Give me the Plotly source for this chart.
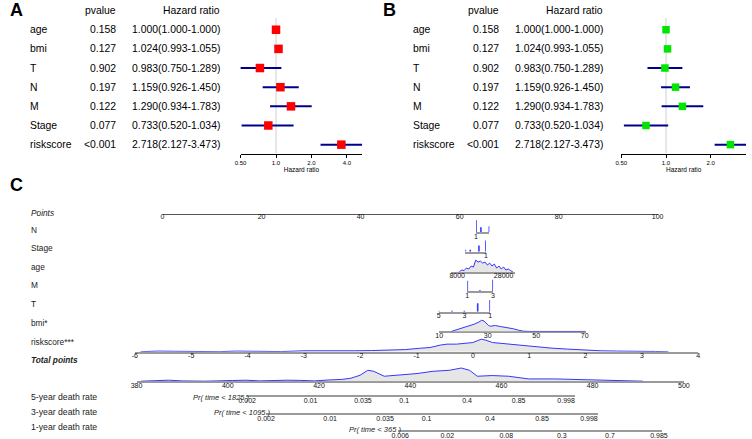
import math
import plotly.graph_objects as go

W, H = 752, 439
FONT = "Liberation Sans, Arial, sans-serif"

# ---------------- forest plot data ----------------
variables = ["age", "bmi", "T", "N", "M", "Stage", "riskscore"]
pvalues = ["0.158", "0.127", "0.902", "0.197", "0.122", "0.077", "<0.001"]
hr_labels = ["1.000(1.000-1.000)", "1.024(0.993-1.055)", "0.983(0.750-1.289)",
             "1.159(0.926-1.450)", "1.290(0.934-1.783)", "0.733(0.520-1.034)",
             "2.718(2.127-3.473)"]
# panel A: estimates as drawn
a_hr = [1.00, 1.05, 0.73, 1.09, 1.34, 0.86, 3.59]
a_lo = [1.00, 1.05, 0.49, 0.77, 0.89, 0.51, 2.39]
a_hi = [1.00, 1.05, 1.11, 1.56, 2.01, 1.41, 5.40]
# panel B
b_hr = [1.000, 1.024, 0.983, 1.159, 1.290, 0.733, 2.718]
b_lo = [1.000, 0.993, 0.750, 0.926, 0.934, 0.520, 2.127]
b_hi = [1.000, 1.055, 1.289, 1.450, 1.783, 1.034, 3.473]
hr_tickvals = [0.5, 1, 2, 4]
hr_ticktext = ["0.50", "1.0", "2.0", "4.0"]

# ---------------- nomogram data ----------------
points_ticks = [0, 20, 40, 60, 80, 100]

n_points = [63.3, 64.3, 66.0]
n_freq = [12, 5, 6]
n_ticktext = ["1", "", ""]

stage_points = [61.15, 62.15, 63.9, 65.3]
stage_freq = [2, 2, 6.3, 11.3]
stage_ticktext = ["", "", "", "1"]

m_points = [61.55, 64.1, 66.75]
m_freq = [10.7, 1, 11.7]
m_ticktext = ["1", "", "3"]

t_points = [55.75, 58.45, 60.95, 63.65, 66.15]
t_freq = [1, 1, 1, 8.7, 12]
t_ticktext = ["5", "", "3", "", "1"]

age_ticks = [8000, 28000]
age_x = [9000, 10000, 11000, 12000, 13000, 14000, 15000, 16000, 17000, 18000,
         19000, 20000, 21000, 22000, 23000, 24000, 25000, 26000, 27000, 28000,
         29000, 30000, 31000, 32000]
age_dens = [0.5, 2, 1.5, 4, 3, 6, 5, 12, 10, 11, 9, 10, 7, 9, 6, 8, 4, 6, 3, 5,
            2, 3, 1.5, 0]

bmi_ticks = [10, 30, 50, 70]
bmi_x = [15, 17, 19, 21.7, 24.4, 26.4, 27.5, 28.5, 29.6, 30.4, 31.1, 33.2, 35.2,
         37.9, 40.6, 42.6, 44.7, 47, 66, 67.5, 69, 70]
bmi_dens = [0, 1.5, 3.3, 5.7, 7.3, 9.5, 11.3, 10.5, 7.5, 6.0, 5.3, 6, 5, 4, 2.7,
            1.3, 0.3, 0, 0, 0.4, 0.3, 0]

risk_ticks = [-6, -5, -4, -3, -2, -1, 0, 1, 2, 3, 4]
risk_x = [-5.9, -5.6, -5.3, -5.0, -4.5, -4.2, -3.8, -3.4, -3.0, -2.7, -2.4, -2.1,
          -1.8, -1.5, -1.2, -0.95, -0.76, -0.58, -0.46, -0.29, -0.12, 0.0, 0.15,
          0.23, 0.35, 0.52, 0.7, 0.93, 1.16, 1.39, 1.68, 1.97, 2.26, 2.55, 2.8,
          3.01, 3.24, 3.47]
risk_dens = [0, 0.7, 0.5, 0.1, 0.1, 0.7, 0.6, 0.2, 1, 0.8, 0.6, 1, 1.2, 1.5, 2.2,
             3.5, 4.3, 6.7, 7.7, 7.7, 8.3, 9.3, 12.7, 11.7, 9.3, 8.3, 7, 6, 5, 3.7,
             2.7, 1.7, 1, 0.7, 0.7, 1, 0.3, 0]

total_ticks = [380, 400, 420, 440, 460, 480, 500]
total_x = [381, 384, 387, 390, 395, 401, 404, 407, 410, 413, 416, 419, 422, 425,
           427, 429, 430.7, 432, 434.3, 436, 438, 441.5, 445, 448.6, 451.2, 453,
           454.7, 458, 461.6, 465.9, 471.6, 477.4, 483.1, 488.9, 491]
total_dens = [0, 0.7, 1, 0.3, 0, 0.7, 1, 0.3, 0.8, 1, 0.8, 0.3, 1.2, 1.8, 3, 6,
              11, 10, 5, 5.5, 6.3, 7.7, 10, 11, 13.3, 11, 5, 5.7, 5, 2.3, 2.3,
              1.7, 1, 0.7, 0]

rate5_text = ["0.002", "0.01", "0.035", "0.1", "0.4", "0.85", "0.998"]
rate5_pos = [404.25, 418.15, 429.64, 438.68, 452.45, 463.77, 474.18]
rate3_text = ["0.002", "0.01", "0.035", "0.1", "0.4", "0.85", "0.998"]
rate3_pos = [408.4, 422.45, 434.5, 443.6, 457.5, 468.9, 479.2]
rate1_text = ["0.006", "0.02", "0.08", "0.3", "0.7", "0.985"]
rate1_pos = [437.8, 448.14, 461.05, 473.23, 483.78, 494.54]

# ---------------- helpers ----------------
def px2x(px):
    return px / W


def py2y(py):
    return 1 - py / H


layout = dict(
    width=W, height=H, margin=dict(l=0, r=0, t=0, b=0),
    paper_bgcolor="white", plot_bgcolor="white", showlegend=False,
    font=dict(family=FONT, color="#000"),
)
traces = []
annotations = []

# ---------------- forest plots ----------------
ROW0, ROWSTEP = 30.0, 19.33
y_bot = (155 - ROW0) / ROWSTEP
y_top = (18 - ROW0) / ROWSTEP
layout["yaxis"] = dict(domain=[py2y(155), py2y(18)], range=[y_bot, y_top],
                       visible=False, fixedrange=True)


def log_range(px_half, px_doubling, px_start, px_end):
    l2 = math.log10(2)
    lo = math.log10(0.5) + (px_start - px_half) / px_doubling * l2
    hi = math.log10(0.5) + (px_end - px_half) / px_doubling * l2
    return [lo, hi]


def forest_axis(px_half, px_doubling, px_start, px_end):
    return dict(type="log", range=log_range(px_half, px_doubling, px_start, px_end),
                domain=[px2x(px_start), px2x(px_end)], anchor="y",
                showline=True, linecolor="#000", linewidth=1,
                ticks="outside", ticklen=3, tickwidth=1, tickcolor="#000",
                tickvals=hr_tickvals, ticktext=hr_ticktext,
                tickfont=dict(size=6, family=FONT),
                title=dict(text="Hazard ratio", font=dict(size=6.5, family=FONT), standoff=1),
                showgrid=False, zeroline=False, fixedrange=True)


layout["xaxis"] = forest_axis(237, 36.1, 237, 361)
layout["xaxis2"] = forest_axis(625, 45.5, 625, 752)

rows_idx = list(range(len(variables)))
panels = [("x", a_hr, a_lo, a_hi, "#FF0000", 8.5, 20.7, 112.3, 218.3, "A", 9),
          ("x2", b_hr, b_lo, b_hi, "#00E600", 7.5, 411, 502.7, 608.7, "B", 389)]
for xa, hr, lo, hi, col, msz, xname, xp, xhr, letter, xlet in panels:
    traces.append(go.Scatter(x=[1, 1], y=[y_top, y_bot], xaxis=xa, yaxis="y",
                             mode="lines", line=dict(color="#cfcfcf", width=1),
                             hoverinfo="skip", cliponaxis=False))
    cx, cy = [], []
    for i in rows_idx:
        cx += [lo[i], hi[i], None]
        cy += [i, i, None]
    traces.append(go.Scatter(x=cx, y=cy, xaxis=xa, yaxis="y", mode="lines",
                             line=dict(color="#00008B", width=2), cliponaxis=False,
                             hoverinfo="skip"))
    traces.append(go.Scatter(x=hr, y=rows_idx, xaxis=xa, yaxis="y", mode="markers",
                             marker=dict(symbol="square", size=msz, color=col),
                             cliponaxis=False, hoverinfo="skip"))
    tf = dict(family=FONT, size=10.4, color="#000")
    annotations.append(dict(x=px2x(xp), y=py2y(10.7), xref="paper", yref="paper",
                            text="pvalue", xanchor="right", yanchor="middle",
                            showarrow=False, font=tf))
    annotations.append(dict(x=px2x(xhr), y=py2y(10.7), xref="paper", yref="paper",
                            text="Hazard ratio", xanchor="right", yanchor="middle",
                            showarrow=False, font=tf))
    for i in rows_idx:
        annotations.append(dict(x=px2x(xname), y=i, xref="paper", yref="y",
                                text=variables[i], xanchor="left", yanchor="middle",
                                showarrow=False, font=tf))
        annotations.append(dict(x=px2x(xp), y=i, xref="paper", yref="y",
                                text=pvalues[i], xanchor="right", yanchor="middle",
                                showarrow=False, font=tf))
        annotations.append(dict(x=px2x(xhr), y=i, xref="paper", yref="y",
                                text=hr_labels[i], xanchor="right", yanchor="middle",
                                showarrow=False, font=tf))
    annotations.append(dict(x=px2x(xlet), y=py2y(10), xref="paper", yref="paper",
                            text="<b>%s</b>" % letter, xanchor="center", yanchor="middle",
                            showarrow=False, font=dict(family=FONT, size=18, color="#000")))

annotations.append(dict(x=px2x(9), y=py2y(187), xref="paper", yref="paper",
                        text="<b>C</b>", xanchor="center", yanchor="middle",
                        showarrow=False, font=dict(family=FONT, size=18, color="#000")))

# ---------------- nomogram ----------------
axis_counter = [3]
BLUE = "#3636FF"
FILL = "#E6E6E6"
ROWLINE = "#9a9a9a"


def add_row(v0, px0, v1, px1, vmin, vmax, line_py, height, tickvals, ticktext,
            linecolor=ROWLINE, linewidth=2, standoff=-4):
    k = axis_counter[0]
    axis_counter[0] += 1
    scale = (px1 - px0) / (v1 - v0)
    d0 = (px0 + (vmin - v0) * scale) / W
    d1 = (px0 + (vmax - v0) * scale) / W
    layout["xaxis%d" % k] = dict(
        domain=[d0, d1], range=[vmin, vmax], anchor="y%d" % k,
        showline=True, linecolor=linecolor, linewidth=linewidth,
        ticks="", tickvals=tickvals, ticktext=ticktext, ticklabelstandoff=int(standoff),
        tickfont=dict(size=7, family=FONT, color="#111"),
        showgrid=False, zeroline=False, fixedrange=True, layer="below traces")
    layout["yaxis%d" % k] = dict(domain=[py2y(line_py), py2y(line_py - height)],
                                 range=[0, height], anchor="x%d" % k, visible=False,
                                 fixedrange=True)
    return "x%d" % k, "y%d" % k


def density(xa, ya, xs, ys):
    traces.append(go.Scatter(x=xs, y=ys, xaxis=xa, yaxis=ya, mode="lines",
                             fill="tozeroy", fillcolor=FILL,
                             line=dict(color=BLUE, width=1), hoverinfo="skip",
                             cliponaxis=False))


def spikes(xa, ya, xs, ys):
    sx, sy = [], []
    for x, y in zip(xs, ys):
        sx += [x, x, None]
        sy += [0, y, None]
    traces.append(go.Scatter(x=sx, y=sy, xaxis=xa, yaxis=ya, mode="lines",
                             line=dict(color=BLUE, width=1.6), hoverinfo="skip",
                             cliponaxis=False))


def dummy(xa, ya, xs):
    traces.append(go.Scatter(x=xs, y=[0] * len(xs), xaxis=xa, yaxis=ya, mode="markers",
                             marker=dict(size=1, opacity=0), hoverinfo="skip"))


P0, PX0, P1, PX1 = 0, 157.5, 100, 662   # points scale anchors (px)
T0, TX0, T1, TX1 = 380, 131, 500, 688.7  # total points scale anchors (px)

# Points
xa, ya = add_row(P0, PX0, P1, PX1, 0, 100, 215.7, 4, points_ticks,
                 [str(v) for v in points_ticks], linecolor="#555", linewidth=1.2)
dummy(xa, ya, points_ticks)
# N
xa, ya = add_row(P0, PX0, P1, PX1, min(n_points), max(n_points), 234.3, 13,
                 n_points, n_ticktext)
spikes(xa, ya, n_points, n_freq)
# Stage
xa, ya = add_row(P0, PX0, P1, PX1, min(stage_points), max(stage_points), 254, 13,
                 stage_points, stage_ticktext)
spikes(xa, ya, stage_points, stage_freq)
# age
xa, ya = add_row(8000, 457.7, 28000, 505, 5500, 33000, 274.5, 13, age_ticks,
                 [str(v) for v in age_ticks])
density(xa, ya, age_x, age_dens)
# M
xa, ya = add_row(P0, PX0, P1, PX1, min(m_points), max(m_points), 294, 13,
                 m_points, m_ticktext)
spikes(xa, ya, m_points, m_freq)
# T
xa, ya = add_row(P0, PX0, P1, PX1, min(t_points), max(t_points), 314.7, 13,
                 t_points, t_ticktext)
spikes(xa, ya, t_points, t_freq)
# bmi
xa, ya = add_row(10, 439.3, 70, 587.7, 9.8, 70.6, 334.5, 13, bmi_ticks,
                 [str(v) for v in bmi_ticks])
density(xa, ya, bmi_x, bmi_dens)
# riskscore
xa, ya = add_row(-6, 129.3, 4, 703.3, -6, 4, 355, 14, risk_ticks,
                 [str(v) for v in risk_ticks])
density(xa, ya, risk_x, risk_dens)
# total points
xa, ya = add_row(T0, TX0, T1, TX1, 380, 500, 384.7, 16, total_ticks,
                 [str(v) for v in total_ticks])
density(xa, ya, total_x, total_dens)
# death rates
for pos, txt, line_py, lo, hi in [(rate5_pos, rate5_text, 398.3, 404.1, 476.1),
                                   (rate3_pos, rate3_text, 416.7, 408.3, 481.1),
                                   (rate1_pos, rate1_text, 433.5, 437.4, 495.1)]:
    xa, ya = add_row(T0, TX0, T1, TX1, lo, hi, line_py, 3, pos, txt, standoff=-2)
    dummy(xa, ya, pos)

# row labels
row_labels = [("<i>Points</i>", 215, 8.3), ("N", 232, 8.3), ("Stage", 250, 8.3),
              ("age", 269, 8.3), ("M", 288, 8.3), ("T", 307, 8.3),
              ("bmi*", 326, 8.3), ("riskscore***", 345, 8.3),
              ("<b><i>Total points</i></b>", 363, 8.3),
              ("5-year death rate", 401, 8.7), ("3-year death rate", 416, 8.7),
              ("1-year death rate", 431, 8.7)]
for txt, py, fs in row_labels:
    annotations.append(dict(x=px2x(21.7), y=py2y(py), xref="paper", yref="paper",
                            text=txt, xanchor="left", yanchor="middle", showarrow=False,
                            font=dict(family=FONT, size=fs, color="#222")))

for txt, pxl, py in [("<i>Pr( time < 1825 )</i>", 186.7, 401.5),
                     ("<i>Pr( time < 1095 )</i>", 208.3, 416.5),
                     ("<i>Pr( time < 365 )</i>", 345.0, 433.0)]:
    annotations.append(dict(x=px2x(pxl), y=py2y(py), xref="paper", yref="paper",
                            text=txt, xanchor="left", yanchor="middle", showarrow=False,
                            font=dict(family=FONT, size=7.5, color="#222")))

layout["annotations"] = annotations
fig = go.Figure(data=traces, layout=layout)
fig.write_html("out.html", config={"displayModeBar": False},
               post_script="document.body.style.margin='0';document.body.style.padding='0';")
